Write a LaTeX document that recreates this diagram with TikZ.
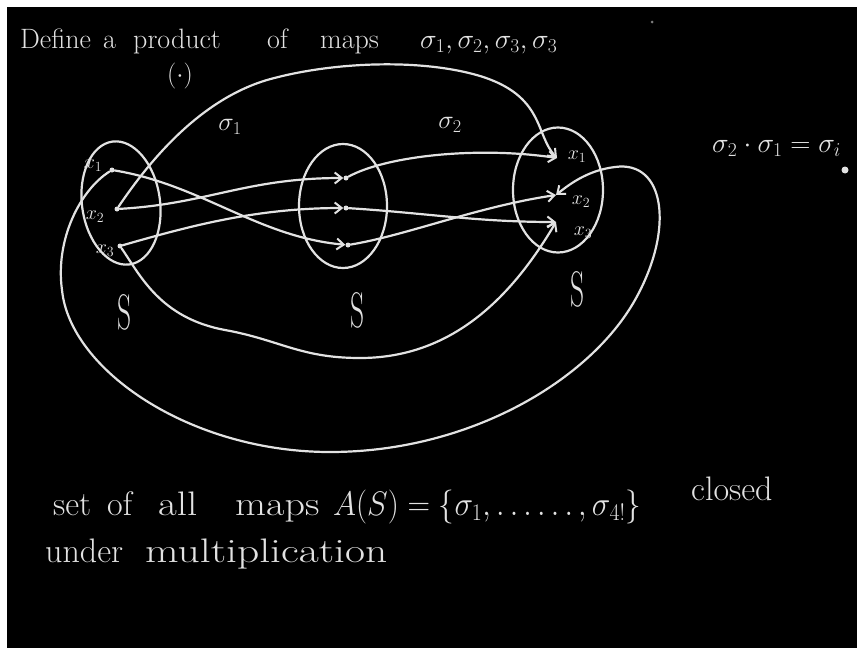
\RequirePackage{fix-cm}
\documentclass[tikz,border=0pt]{standalone}
\usepackage{fontspec}
\usetikzlibrary{shapes.geometric,arrows.meta}
\definecolor{chalk}{RGB}{226,226,226}
\begin{document}
\begin{tikzpicture}[x=1pt,y=-1pt,
  chalkline/.style={draw=chalk,line width=2.2pt,line cap=round,line join=round},
  arr/.style={chalkline,-{Straight Barb[length=7pt,width=11pt,line width=2pt]}},
  setbox/.style={ellipse,chalkline,inner sep=0pt},
  dotpt/.style={circle,fill=chalk,inner sep=0pt,minimum size=5pt},
  txt/.style={text=chalk,inner sep=0pt,anchor=base west,font=\fontsize{28}{32}\selectfont},
  btxt/.style={text=chalk,inner sep=0pt,anchor=base west,font=\fontsize{34}{38}\selectfont},
  lbl/.style={text=chalk,inner sep=0pt,font=\fontsize{20}{22}\selectfont},
  sig/.style={text=chalk,inner sep=0pt,font=\fontsize{26}{30}\selectfont},
  slbl/.style={text=chalk,inner sep=0pt,font=\fontsize{50}{54}\selectfont},
]
\useasboundingbox (0,0) rectangle (857,648);
\fill[white] (0,0) rectangle (857,648);
\fill[black] (7,7) rectangle (857,648);

% title
\node[txt] (t1) at (20,48) {Define};
\node[txt] (t2) at (103,48) {a};
\node[txt] (t3) at (133,48) {product};
\node[txt] (t4) at (267,48) {of};
\node[txt] (t5) at (320,48) {maps};
\node[txt] (t6) at (420,48) {$\sigma_1, \sigma_2, \sigma_3, \sigma_3$};
\node[sig] (t7) at (180,76) {$(\cdot)$};
\fill[chalk!55!black] (652,22) circle (1.5);

% sets
\node[setbox,rotate=8,minimum width=78pt,minimum height=124pt] (EL) at (121,203) {};
\node[setbox,minimum width=88pt,minimum height=124pt] (EM) at (343,206) {};
\node[setbox,minimum width=90pt,minimum height=125pt] (ER) at (558,190) {};

% points
\node[dotpt] (L1) at (112,170) {};
\node[dotpt] (L2) at (117,209) {};
\node[dotpt] (L3) at (120,246) {};
\node[dotpt] (M1) at (346,178) {};
\node[dotpt] (M2) at (346,208) {};
\node[dotpt] (M3) at (348,245) {};
\coordinate (R1) at (557,158);
\coordinate (R2) at (556,195);
\coordinate (R3) at (556,222);

% point labels
\node[lbl] (lx1) at (93,166) {$x_1$};
\node[lbl] (lx2) at (95,217) {$x_2$};
\node[lbl] (lx3) at (105,251) {$x_3$};
\node[lbl] (rx1) at (577,157) {$x_1$};
\node[lbl] (rx2) at (581,202) {$x_2$};
\node[lbl] (rx3) at (583,233) {$x_3$};

% sigma_1
\draw[arr] (L1) .. controls +(90,15) and +(-90,-8) .. (M3);
\draw[arr] (L2) .. controls +(90,-5) and +(-100,0) .. (M1);
\draw[arr] (L3) .. controls +(70,-20) and +(-90,0) .. (M2);
% sigma_2
\draw[arr] (M1) .. controls +(40,-22) and +(-80,-12) .. (R1);
\draw[arr] (M2) .. controls +(80,5) and +(-80,0) .. (R3);
\draw[arr] (M3) .. controls +(60,-10) and +(-80,12) .. (R2);

% composites
\draw[arr] (L2) .. controls (150,160) and (200,100) .. (267,80)
  .. controls (330,62) and (420,58) .. (480,76)
  .. controls (545,96) and (535,135) .. (R1);
\draw[arr] (L3) .. controls (140,275) and (160,318) .. (225,330)
  .. controls (280,340) and (300,358) .. (360,358)
  .. controls (450,358) and (510,300) .. (R3);
\draw[arr] (L1) .. controls (80,190) and (55,240) .. (62,290)
  .. controls (70,370) and (190,452) .. (330,452)
  .. controls (470,452) and (590,380) .. (635,300)
  .. controls (675,229) and (665,160) .. (615,167)
  .. controls (590,170) and (572,182) .. (R2);

% map labels
\node[sig] (s1) at (230,127) {$\sigma_1$};
\node[sig] (s2) at (450,125) {$\sigma_2$};
\node[slbl] (S1) at (125,312) {\scalebox{0.55}[1]{S}};
\node[slbl] (S2) at (358,310) {\scalebox{0.55}[1]{S}};
\node[slbl] (S3) at (578,289) {\scalebox{0.55}[1]{S}};

% equation
\node[txt] (eq) at (712,152) {$\sigma_2\cdot\sigma_1 = \sigma_i$};
\fill[chalk] (845,170) circle (3.5);

% bottom
\node[btxt] (b1) at (53,515) {set};
\node[btxt] (b2) at (107,515) {of};
\node[btxt] (b3) at (158,515) {\scalebox{1.2}[1]{all}};
\node[btxt] (b4) at (235,515) {\scalebox{1.18}[1]{maps}};
\node[btxt] (b5) at (333,515) {\scalebox{0.92}[1]{$A(S) = \{\sigma_1, \ldots\ldots, \sigma_{4!}\}$}};
\node[btxt] (b6) at (691,500) {closed};
\node[btxt] (b7) at (45,562) {under};
\node[btxt] (b8) at (145,562) {\scalebox{1.28}[1]{multiplication}};
\end{tikzpicture}
\end{document}
